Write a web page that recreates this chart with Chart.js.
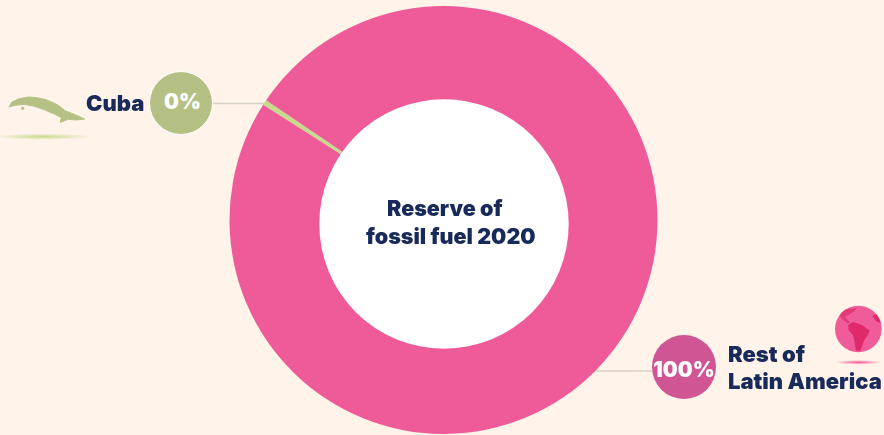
<!DOCTYPE html>
<html lang="en">
<head>
    <meta charset="UTF-8">
    <title>Reserve of fossil fuel 2020</title>
    <script src="https://cdn.jsdelivr.net/npm/chart.js"></script>
    <style>
        body {
            margin: 0;
            background: #fff3ea;
            overflow: hidden;
        }
        #wrap {
            position: relative;
            width: 884px;
            height: 435px;
            font-family: Inter, "Liberation Sans", sans-serif;
            font-weight: 900;
            color: #172a5a;
        }
        canvas {
            position: absolute;
            left: 0;
            top: 0;
        }
        .txt {
            position: absolute;
            font-size: 22px;
            line-height: 28px;
            white-space: nowrap;
        }
        .bubble {
            position: absolute;
            border-radius: 50%;
            box-sizing: border-box;
            border: 1.5px solid #fff;
            color: #fff;
            font-size: 21px;
            display: flex;
            align-items: center;
            justify-content: center;
        }
        svg {
            position: absolute;
        }
    </style>
</head>
<body>
    <div id="wrap">
        <canvas id="dona" width="884" height="435"></canvas>

        <div class="txt" id="titulo1" style="left:387px;top:194px;font-size:21.5px"></div>
        <div class="txt" id="titulo2" style="left:366px;top:222px;font-size:21.5px"></div>

        <div class="txt" id="nombre0" style="left:86px;top:89px"></div>
        <div class="bubble" id="pct0" style="left:149px;top:71px;width:64px;height:64px;background:#b5c184;padding-bottom:4px;padding-left:3px"></div>

        <div class="txt" id="nombre1a" style="left:728px;top:340px"></div>
        <div class="txt" id="nombre1b" style="left:728px;top:367px"></div>
        <div class="bubble" id="pct1" style="left:652px;top:335px;width:64px;height:64px;background:#cf5594;border:0;padding-top:4px"></div>

        <!-- Cuba -->
        <svg style="left:0;top:85px" width="100" height="60" viewBox="0 0 300 180">
            <defs>
                <radialGradient id="sombraVerde">
                    <stop offset="0" stop-color="#c5dc8c"></stop>
                    <stop offset="1" stop-color="#c5dc8c" stop-opacity="0"></stop>
                </radialGradient>
                <radialGradient id="sombraRosa">
                    <stop offset="0" stop-color="#f05c99"></stop>
                    <stop offset="1" stop-color="#f05c99" stop-opacity="0"></stop>
                </radialGradient>
                <clipPath id="recorte"><circle cx="100" cy="87" r="70"></circle></clipPath>
            </defs>
            <ellipse cx="128" cy="155" rx="150" ry="9" fill="url(#sombraVerde)"></ellipse>
            <path fill="#b5c184" stroke="#b5c184" stroke-width="3" d="M27 66 L36 51 L55 42 L85 36 L110 38 L135 43 L155 51 L175 61 L195 77 L225 89 L254 102 L228 105 L205 103 L181 112 L184 98 L165 88 L130 73 L100 63 L72 58 L45 61 Z"></path>
            <circle cx="68" cy="70" r="5" fill="#b5c184"></circle>
        </svg>

        <!-- globo -->
        <svg style="left:825px;top:300px" width="59" height="70" viewBox="0 0 177 210">
            <ellipse cx="100" cy="187" rx="70" ry="7" fill="url(#sombraRosa)"></ellipse>
            <circle cx="100" cy="87" r="70" fill="#f05c99"></circle>
            <g clip-path="url(#recorte)" fill="#e0296b">
                <path d="M70 74 L85 66 L110 74 L134 92 L128 106 L118 120 L106 152 L93 152 L88 122 L84 106 L70 90 Z"></path>
                <path fill="#e33a78" d="M42 42 L62 28 L96 24 L88 34 L72 44 L60 50 L76 68 L68 70 L50 56 Z"></path>
                <path d="M142 48 L155 42 L170 55 L168 70 L155 65 Z"></path>
            </g>
        </svg>
    </div>

    <script>
        const categorias = ['Cuba', 'Rest of Latin America'];
        const reservas = [0.4, 99.6];
        const colores = ['#c5dc8c', '#ef5b98'];
        const nombreResto = ['Rest of', 'Latin America'];
        const tituloLineas = ['Reserve of', 'fossil fuel 2020'];

        // extremo de cada línea guía: [x del círculo, y]
        const guias = [[212, 103.5], [652, 371]];

        document.getElementById('titulo1').textContent = tituloLineas[0];
        document.getElementById('titulo2').textContent = tituloLineas[1];
        document.getElementById('nombre0').textContent = categorias[0];
        document.getElementById('nombre1a').textContent = nombreResto[0];
        document.getElementById('nombre1b').textContent = nombreResto[1];
        document.getElementById('pct0').textContent = Math.round(reservas[0]) + '%';
        document.getElementById('pct1').textContent = Math.round(reservas[1]) + '%';

        // Las líneas van por debajo de la dona, que tapa lo que sobra
        const lineasGuia = {
            id: 'lineasGuia',
            beforeDatasetsDraw(chart) {
                const arco = chart.getDatasetMeta(0).data[0];
                const c = chart.ctx;
                c.save();
                c.strokeStyle = '#d6d0c6';
                c.lineWidth = 1.5;
                guias.forEach(g => {
                    c.beginPath();
                    c.moveTo(g[0], g[1]);
                    c.lineTo(arco.x, g[1]);
                    c.stroke();
                });
                c.restore();
            }
        };

        // El hueco blanco está algo más abajo que el centro del anillo
        const hueco = {
            id: 'hueco',
            afterDatasetsDraw(chart) {
                const arco = chart.getDatasetMeta(0).data[0];
                const c = chart.ctx;
                c.save();
                c.fillStyle = '#fff';
                c.beginPath();
                c.arc(arco.x + 0.5, arco.y + 4, 124.7, 0, Math.PI * 2);
                c.fill();
                c.restore();
            }
        };

        new Chart(document.getElementById('dona'), {
            type: 'doughnut',
            data: {
                labels: categorias,
                datasets: [{
                    data: reservas,
                    backgroundColor: colores,
                    borderWidth: 0
                }]
            },
            options: {
                responsive: false,
                animation: false,
                rotation: -57.42,
                cutout: '55%',
                layout: { padding: { left: 229, right: 226, top: 6, bottom: 1 } },
                plugins: {
                    legend: { display: false },
                    tooltip: { enabled: false }
                }
            },
            plugins: [lineasGuia, hueco]
        });
    </script>
</body>
</html>
